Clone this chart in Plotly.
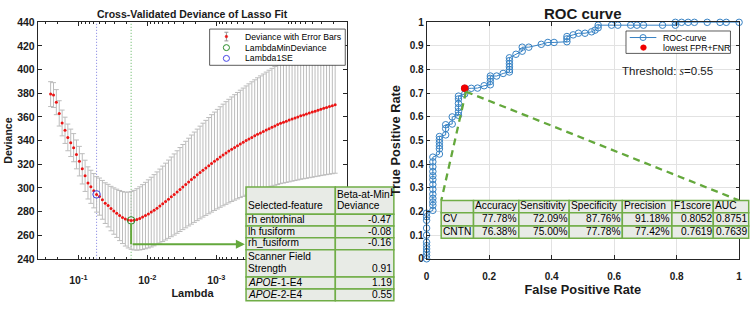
import math
import plotly.graph_objects as go

# ---------------- Lasso cross-validation data ----------------
log10_lambda = [
    -0.597, -0.639, -0.680, -0.722, -0.764, -0.806, -0.847, -0.889, -0.931, -0.972,
    -1.014, -1.056, -1.097, -1.139, -1.181, -1.223, -1.264, -1.306, -1.348, -1.389,
    -1.431, -1.473, -1.514, -1.556, -1.598, -1.640, -1.681, -1.723, -1.765, -1.806,
    -1.848, -1.890, -1.931, -1.973, -2.015, -2.057, -2.098, -2.140, -2.182, -2.223,
    -2.265, -2.307, -2.348, -2.390, -2.432, -2.474, -2.515, -2.557, -2.599, -2.640,
    -2.682, -2.724, -2.765, -2.807, -2.849, -2.891, -2.932, -2.974, -3.016, -3.057,
    -3.099, -3.141, -3.182, -3.224, -3.266, -3.308, -3.349, -3.391, -3.433, -3.474,
    -3.516, -3.558, -3.599, -3.641, -3.683, -3.725, -3.766, -3.808, -3.850, -3.891,
    -3.933, -3.975, -4.016, -4.058, -4.100, -4.142, -4.183, -4.225, -4.267, -4.308,
    -4.350, -4.392, -4.433, -4.475, -4.517, -4.559, -4.600, -4.642, -4.684, -4.725,
]
deviance = [
    379.3, 378.5, 372.5, 363.0, 354.9, 348.7, 342.7, 338.1, 334.0, 328.3,
    322.6, 316.1, 310.2, 304.2, 300.9, 297.6, 294.5, 292.6, 289.9, 287.1,
    285.0, 282.5, 280.4, 278.5, 276.6, 274.9, 273.6, 272.8, 272.5, 272.7,
    273.3, 274.2, 275.3, 276.6, 278.0, 279.5, 281.1, 282.8, 284.6, 286.5,
    288.4, 290.4, 292.4, 294.4, 296.5, 298.6, 300.7, 302.8, 304.9, 307.0,
    309.0, 311.0, 313.0, 315.0, 316.9, 318.8, 320.7, 322.5, 324.3, 326.1,
    327.8, 329.5, 331.1, 332.7, 334.2, 335.7, 337.2, 338.6, 340.0, 341.4,
    342.7, 344.0, 345.3, 346.5, 347.7, 348.9, 350.1, 351.3, 352.4, 353.5,
    354.6, 355.5, 356.4, 357.3, 358.2, 359.1, 360.0, 360.9, 361.7, 362.5,
    363.3, 364.1, 364.9, 365.7, 366.5, 367.3, 368.0, 368.8, 369.5, 370.3,
]
deviance_se = [
    10.5, 10.5, 10.6, 10.7, 10.9, 11.1, 11.3, 11.6, 11.9, 12.2,
    12.5, 12.8, 13.2, 13.6, 14.0, 14.5, 15.0, 15.7, 16.4, 17.2,
    18.0, 18.8, 19.6, 20.4, 21.2, 22.0, 22.8, 23.6, 24.4, 25.2,
    26.0, 26.7, 27.4, 28.1, 28.8, 29.5, 30.1, 30.7, 31.3, 31.9,
    32.5, 33.1, 33.7, 34.3, 34.9, 35.5, 36.0, 36.6, 37.1, 37.7,
    38.2, 38.7, 39.2, 39.7, 40.2, 40.7, 41.2, 41.6, 42.1, 42.5,
    43.0, 43.4, 43.8, 44.2, 44.6, 45.0, 45.4, 45.8, 46.2, 46.6,
    47.0, 47.4, 47.8, 48.2, 48.6, 49.0, 49.4, 49.8, 50.2, 50.6,
    51.0, 51.4, 51.8, 52.2, 52.5, 52.9, 53.3, 53.6, 54.0, 54.4,
    54.7, 55.1, 55.4, 55.8, 56.1, 56.5, 56.8, 57.2, 57.5, 57.9,
]
idx_min_dev = 28
idx_1se = 16

feature_header = ["Selected-feature", "Beta-at-Min-\nDeviance"]
features = ["rh entorhinal", "lh fusiform", "rh_fusiform", "Scanner Field\nStrength",
            "<i>APOE</i>-1-E4", "<i>APOE</i>-2-E4"]
beta_at_min = ["-0.47", "-0.08", "-0.16", "0.91", "1.19", "0.55"]

lambda_tick_vals = [1e-1, 1e-2, 1e-3]
lambda_tick_text = ["10<sup>-1</sup>", "10<sup>-2</sup>", "10<sup>-3</sup>"]

# ---------------- ROC data ----------------
roc_fpr = [
    0, 0, 0, 0, 0, 0, 0, 0, 0, 0, 0,
    0.020, 0.020, 0.020, 0.020, 0.020, 0.020, 0.020, 0.020, 0.020, 0.020, 0.020, 0.020, 0.020,
    0.041, 0.041, 0.041, 0.041, 0.041, 0.041,
    0.061, 0.061, 0.061,
    0.082, 0.082,
    0.102, 0.102, 0.102, 0.102, 0.102, 0.102,
    0.122, 0.122,
    0.143, 0.163, 0.184,
    0.204, 0.204, 0.204, 0.204,
    0.224, 0.245,
    0.265, 0.265, 0.265, 0.265, 0.265, 0.265,
    0.286, 0.306, 0.306, 0.327,
    0.367, 0.388, 0.408,
    0.449, 0.449, 0.449,
    0.469, 0.486, 0.507, 0.528, 0.539,
    0.549, 0.549,
    0.592, 0.612, 0.653, 0.673, 0.694, 0.755,
    0.796, 0.796, 0.816, 0.837, 0.857, 0.898, 0.939, 0.959, 1.0,
]
roc_tpr = [
    0, 0.014, 0.028, 0.042, 0.056, 0.070, 0.100, 0.130, 0.163, 0.178, 0.193,
    0.205, 0.226, 0.240, 0.256, 0.273, 0.294, 0.314, 0.335, 0.351, 0.369, 0.389, 0.410, 0.430,
    0.443, 0.465, 0.478, 0.492, 0.505, 0.517,
    0.524, 0.551, 0.567,
    0.570, 0.600,
    0.607, 0.622, 0.639, 0.657, 0.676, 0.688,
    0.697, 0.721,
    0.721, 0.722, 0.732,
    0.736, 0.750, 0.763, 0.773,
    0.773, 0.784,
    0.790, 0.800, 0.812, 0.825, 0.838, 0.850,
    0.865, 0.878, 0.895, 0.895,
    0.907, 0.915, 0.915,
    0.918, 0.930, 0.940,
    0.947, 0.954, 0.954, 0.960, 0.967,
    0.977, 0.988,
    0.988, 0.988, 0.988, 0.988, 0.988, 0.988,
    0.988, 1.0, 1.0, 1.0, 1.0, 1.0, 1.0, 1.0, 1.0,
]
idx_best = 42
threshold_s = "0.55"

metric_names = ["Accuracy", "Sensitivity", "Specificity", "Precision", "F1score", "AUC"]
set_names = ["CV", "CNTN"]
metric_values = [
    ["77.78%", "72.09%", "87.76%", "91.18%", "0.8052", "0.8751"],
    ["76.38%", "75.00%", "77.78%", "77.42%", "0.7619", "0.7639"],
]

# ---------------- styling / layout helpers ----------------
W, H = 753, 310
FONT = "Arial, Liberation Sans, Helvetica, sans-serif"
AX = "#262626"
GREEN = "rgb(112,173,71)"
CELL_BG = "rgb(232,235,230)"
ROC_BLUE = "rgb(55,130,196)"


def fx(px):
    return px / W


def fy(py):
    return 1 - py / H


shapes = []
annotations = []


def text(x, y, s, size, anchor="left", bold=False, color="black"):
    annotations.append(dict(
        xref="paper", yref="paper", x=fx(x), y=fy(y), text=s, showarrow=False,
        xanchor=anchor, yanchor="middle", borderpad=0,
        font=dict(family=FONT, size=size, color=color, weight="bold" if bold else "normal")))


def rect(x0, y0, x1, y1, fill, line_color, line_width):
    shapes.append(dict(type="rect", xref="paper", yref="paper", layer="above",
                       x0=fx(x0), x1=fx(x1), y0=fy(y1), y1=fy(y0),
                       fillcolor=fill, line=dict(color=line_color, width=line_width)))


def seg(x0, y0, x1, y1, color, width):
    shapes.append(dict(type="line", xref="paper", yref="paper", layer="above",
                       x0=fx(x0), x1=fx(x1), y0=fy(y0), y1=fy(y1),
                       line=dict(color=color, width=width)))


def circ(cx, cy, r, fill, line_color, width):
    shapes.append(dict(type="circle", xref="paper", yref="paper", layer="above",
                       x0=fx(cx - r), x1=fx(cx + r), y0=fy(cy + r), y1=fy(cy - r),
                       fillcolor=fill, line=dict(color=line_color, width=width)))


def draw_table(x0, y0, col_w, row_h, rows, body_align, size, line_h, pad=0.6, dy=-0.8):
    y = y0
    for r, h in enumerate(row_h):
        x = x0
        row = rows[r]
        m = max(len(s.split("\n")) if s else 1 for s in row)
        for c, w in enumerate(col_w):
            rect(x, y, x + w, y + h, CELL_BG, GREEN, 1.5)
            lines = row[c].split("\n") if row[c] else []
            n = len(lines)
            align = "left" if r == 0 else body_align[c]
            top = y + (h - m * line_h) / 2
            for k, ln in enumerate(lines):
                yc = top + (m - n + k + 0.5) * line_h + dy
                xx = x + pad if align == "left" else x + w - pad
                text(xx, yc, ln, size, anchor=align)
            x += w
        y += h


lam = [10 ** v for v in log10_lambda]
dev_range = [240, 440]

fig = go.Figure()

# ---- left panel: lasso deviance ----
fig.add_trace(go.Scatter(x=[lam[idx_1se]] * 2, y=dev_range, mode="lines", xaxis="x", yaxis="y",
                         line=dict(color="rgb(125,125,225)", width=1, dash="1px,2px"), hoverinfo="skip"))
fig.add_trace(go.Scatter(x=[lam[idx_min_dev]] * 2, y=dev_range, mode="lines", xaxis="x", yaxis="y",
                         line=dict(color="rgb(95,180,95)", width=1, dash="1px,2px"), hoverinfo="skip"))
fig.add_trace(go.Scatter(
    x=lam, y=deviance, mode="markers", xaxis="x", yaxis="y",
    marker=dict(color="rgb(235,20,20)", size=3.0),
    error_y=dict(type="data", array=deviance_se, color="rgb(188,188,188)", thickness=1, width=2.5)))
fig.add_trace(go.Scatter(x=[lam[idx_min_dev]], y=[deviance[idx_min_dev]], mode="markers",
                         xaxis="x", yaxis="y",
                         marker=dict(symbol="circle-open", size=7.5, color="rgb(40,140,40)", line=dict(width=1))))
fig.add_trace(go.Scatter(x=[lam[idx_1se]], y=[deviance[idx_1se]], mode="markers",
                         xaxis="x", yaxis="y",
                         marker=dict(symbol="circle-open", size=7.5, color="rgb(70,70,230)", line=dict(width=1))))

# elbow call-out arrow from lambda-min point to the table
arrow_dev = 252.4
arrow_tip_log10 = -3.415
fig.add_trace(go.Scatter(x=[lam[idx_min_dev]] * 2, y=[deviance[idx_min_dev] - 2.6, arrow_dev],
                         mode="lines", xaxis="x", yaxis="y",
                         line=dict(color="rgb(100,168,60)", width=2), hoverinfo="skip"))
annotations.append(dict(xref="x", yref="y", axref="x", ayref="y",
                        x=arrow_tip_log10, y=arrow_dev, ax=log10_lambda[idx_min_dev], ay=arrow_dev,
                        text="", showarrow=True, arrowhead=2, arrowsize=0.9, arrowwidth=2,
                        arrowcolor="rgb(100,168,60)", standoff=0, startstandoff=0))

# ---- right panel: ROC ----
fig.add_trace(go.Scatter(x=roc_fpr, y=roc_tpr, mode="lines+markers", xaxis="x2", yaxis="y2",
                         cliponaxis=False,
                         line=dict(color=ROC_BLUE, width=1),
                         marker=dict(symbol="circle-open", size=6.5, color=ROC_BLUE, line=dict(width=1))))
fig.add_trace(go.Scatter(x=[roc_fpr[idx_best]], y=[roc_tpr[idx_best]], mode="markers",
                         xaxis="x2", yaxis="y2", cliponaxis=False,
                         marker=dict(color="rgb(240,0,0)", size=7.5)))

# dashed call-out lines from the best point to the metrics table
callout_start = (0.126, 0.707)
callout_ends = [(0.047, 0.247), (1.0, 0.247)]
for ex, ey in callout_ends:
    shapes.append(dict(type="line", xref="x2", yref="y2", layer="above",
                       x0=callout_start[0], y0=callout_start[1], x1=ex, y1=ey,
                       line=dict(color="rgb(100,168,60)", width=2.3, dash="7px,5px")))

# ---- tables ----
left_rows = [feature_header] + [[f, b] for f, b in zip(features, beta_at_min)]
draw_table(245, 188.3, [90, 59], [28.3, 12.2, 12.2, 12.6, 28.3, 12.4, 12.4],
           left_rows, ["left", "right"], 10.2, 11.8)

right_rows = [[""] + metric_names] + [[s] + v for s, v in zip(set_names, metric_values)]
draw_table(441.7, 202.3, [32.6, 45.7, 50.7, 53.6, 50.0, 41.7, 35.7], [12.9, 13.6, 12.9],
           right_rows, ["left"] + ["right"] * 6, 10.2, 12)

# ---- legends (drawn as boxes + symbols + text) ----
rect(208.3, 24, 345, 61.7, "white", "#333333", 0.8)
seg(225.2, 27.3, 225.2, 36.3, "rgb(150,150,150)", 1)
seg(223.2, 27.3, 227.2, 27.3, "rgb(150,150,150)", 1)
seg(223.2, 36.3, 227.2, 36.3, "rgb(150,150,150)", 1)
circ(225.2, 31.8, 1.3, "rgb(235,20,20)", "rgb(235,20,20)", 0.5)
circ(225.2, 43.3, 3.1, "rgba(0,0,0,0)", "rgb(40,140,40)", 1)
circ(225.2, 54.5, 3.1, "rgba(0,0,0,0)", "rgb(70,70,230)", 1)
text(242.7, 31.8, "Deviance with Error Bars", 8.7)
text(242.7, 43.3, "LambdaMinDeviance", 8.7)
text(242.7, 54.5, "Lambda1SE", 8.7)

rect(628, 26, 733.3, 49.3, "white", "#333333", 0.8)
seg(631.8, 32.8, 658.6, 32.8, ROC_BLUE, 1)
circ(645.2, 32.8, 3.1, "rgba(0,0,0,0)", ROC_BLUE, 1)
circ(645.6, 43.3, 2.9, "rgb(240,0,0)", "rgb(240,0,0)", 0.5)
text(664, 32.8, "ROC-curve", 8.7)
text(664, 43.4, "lowest FPR+FNR", 8.7)

# threshold label
text(623, 68, "Threshold: <span style='font-family:Liberation Serif, Times New Roman, serif'><i>s</i></span>="
     + threshold_s, 11.5, color="#1a1a1a")

# panel titles
text(191, 8.3, "Cross-Validated Deviance of Lasso Fit", 10.5, anchor="center", bold=True, color="#1a1a1a")
text(584.5, 7.8, "ROC curve", 15, anchor="center", bold=True, color="#1a1a1a")

minor_vals = [m * 10 ** e for e in range(-5, 0) for m in range(2, 10)]

tickfont_l = dict(family=FONT, size=10.5, color="#1a1a1a", weight="bold")
tickfont_r = dict(family=FONT, size=10, color="#1a1a1a", weight="bold")

fig.update_layout(
    width=W, height=H, margin=dict(l=0, r=0, t=0, b=0),
    paper_bgcolor="white", plot_bgcolor="white", showlegend=False, hovermode=False,
    xaxis=dict(domain=[fx(35), fx(347)], anchor="y", type="log", range=[-0.41, -4.9],
               tickvals=lambda_tick_vals, ticktext=lambda_tick_text,
               ticks="inside", ticklen=4, tickcolor=AX, tickwidth=0.8, ticklabelstandoff=12,
               showline=True, linecolor=AX, linewidth=0.8, mirror="allticks",
               showgrid=False, zeroline=False, tickfont=tickfont_l,
               minor=dict(tickvals=minor_vals, ticks="inside", ticklen=2, tickcolor=AX, tickwidth=0.8),
               title=dict(text="Lambda", font=dict(family=FONT, size=11, color="#1a1a1a", weight="bold"),
                          standoff=3)),
    yaxis=dict(domain=[fy(263), fy(17)], anchor="x", range=dev_range, dtick=20, tick0=240,
               ticks="inside", ticklen=4, tickcolor=AX, tickwidth=0.8,
               showline=True, linecolor=AX, linewidth=0.8, mirror="ticks",
               showgrid=False, zeroline=False, tickfont=tickfont_l,
               title=dict(text="Deviance", font=dict(family=FONT, size=10.5, color="#1a1a1a", weight="bold"),
                          standoff=2)),
    xaxis2=dict(domain=[fx(427), fx(742)], anchor="y2", range=[0, 1], dtick=0.2, tick0=0,
                ticks="inside", ticklen=3.5, tickcolor=AX, tickwidth=0.8, ticklabelstandoff=8,
                showline=True, linecolor=AX, linewidth=0.8, mirror="ticks",
                showgrid=True, gridcolor="rgb(226,226,226)", gridwidth=1, zeroline=False,
                tickfont=tickfont_r,
                title=dict(text="False Positive Rate",
                           font=dict(family=FONT, size=12.8, color="#1a1a1a", weight="bold"), standoff=3)),
    yaxis2=dict(domain=[fy(263), fy(17)], anchor="x2", range=[0, 1], dtick=0.1, tick0=0,
                ticks="inside", ticklen=3.5, tickcolor=AX, tickwidth=0.8,
                showline=True, linecolor=AX, linewidth=0.8, mirror="ticks",
                showgrid=True, gridcolor="rgb(226,226,226)", gridwidth=1, zeroline=False,
                tickfont=tickfont_r,
                title=dict(text="True Positive Rate",
                           font=dict(family=FONT, size=12.8, color="#1a1a1a", weight="bold"), standoff=6)),
    shapes=shapes,
    annotations=annotations,
)

fig.write_html("out.html", config={"displayModeBar": False},
               post_script="document.body.style.margin='0px';document.body.style.overflow='hidden';")
